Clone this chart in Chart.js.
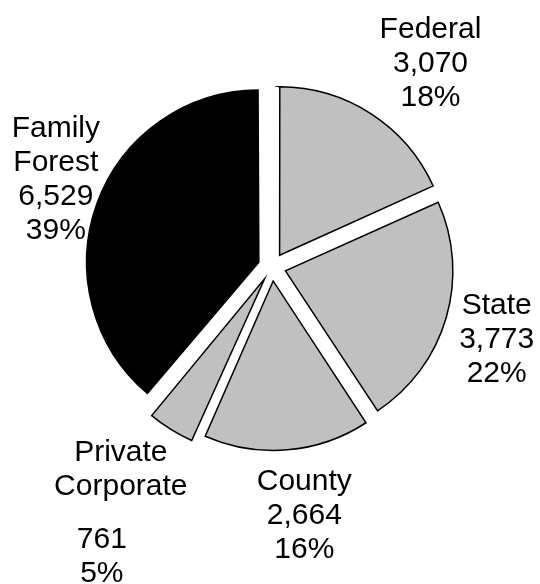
<!DOCTYPE html>
<html>
<head>
<meta charset="utf-8">
<script src="https://cdn.jsdelivr.net/npm/chart.js@4"></script>
<style>
  html, body { margin: 0; padding: 0; background: #fff; }
  #wrap { width: 540px; height: 584px; }
</style>
</head>
<body>
<div id="wrap"><canvas id="ownerPie"></canvas></div>
<script>
// forest land by owner group (thousand acres)
const owners = ['Federal', 'State', 'County', 'Private\nCorporate', 'Family\nForest'];
const acres = [3070, 3773, 2664, 761, 6529];
const sliceColors = ['#c0c0c0', '#c0c0c0', '#c0c0c0', '#c0c0c0', '#000000'];

// where each label block sits, relative to its slice's middle angle
const labelDist = [258, 236, 251, 294, 233];
const labelTurn = [5.0, 1.6, -2.6, 1.1, 1.9];
const nameGap = [0, 0, 0, 19, 0];
const nameDx = [0, 0, 0, 9, 0];
const valueDx = [0, 0, 0, -10, 0];

const LINE_H = 34;
const total = acres.reduce((a, b) => a + b, 0);

function fmt(n) {
  return n.toLocaleString('en-US');
}

const ownerLabels = {
  id: 'ownerLabels',
  afterDatasetsDraw(chart) {
    const ctx = chart.ctx;
    const arcs = chart.getDatasetMeta(0).data;
    ctx.save();
    ctx.font = '30px "Liberation Sans", Arial, sans-serif';
    ctx.fillStyle = '#000';
    ctx.textAlign = 'center';
    ctx.textBaseline = 'middle';
    arcs.forEach((arc, i) => {
      const p = arc.getProps(['x', 'y', 'startAngle', 'endAngle'], true);
      const ang = (p.startAngle + p.endAngle) / 2 + labelTurn[i] * Math.PI / 180;
      const cx = p.x + Math.cos(ang) * labelDist[i];
      const cy = p.y + Math.sin(ang) * labelDist[i];
      const names = owners[i].split('\n');
      const lines = names.map(t => ({ t, dx: nameDx[i], name: true }))
        .concat([
          { t: fmt(acres[i]), dx: valueDx[i], name: false },
          { t: Math.round(acres[i] / total * 100) + '%', dx: valueDx[i], name: false }
        ]);
      const mid = (lines.length - 1) / 2;
      lines.forEach((ln, k) => {
        const y = cy + (k - mid) * LINE_H + (ln.name ? -nameGap[i] / 2 : nameGap[i] / 2);
        ctx.fillText(ln.t, cx + ln.dx, y);
      });
    });
    ctx.restore();
  }
};

new Chart(document.getElementById('ownerPie'), {
  type: 'pie',
  data: {
    labels: owners,
    datasets: [{
      data: acres,
      backgroundColor: sliceColors,
      borderColor: '#000',
      borderWidth: 1.5,
      borderJoinStyle: 'miter',
      offset: 56,
      hoverOffset: 0
    }]
  },
  options: {
    responsive: true,
    maintainAspectRatio: false,
    animation: false,
    layout: { padding: { left: 76, right: 72, top: 71, bottom: 121 } },
    plugins: {
      legend: { display: false },
      tooltip: { enabled: false }
    }
  },
  plugins: [ownerLabels]
});
</script>
</body>
</html>
